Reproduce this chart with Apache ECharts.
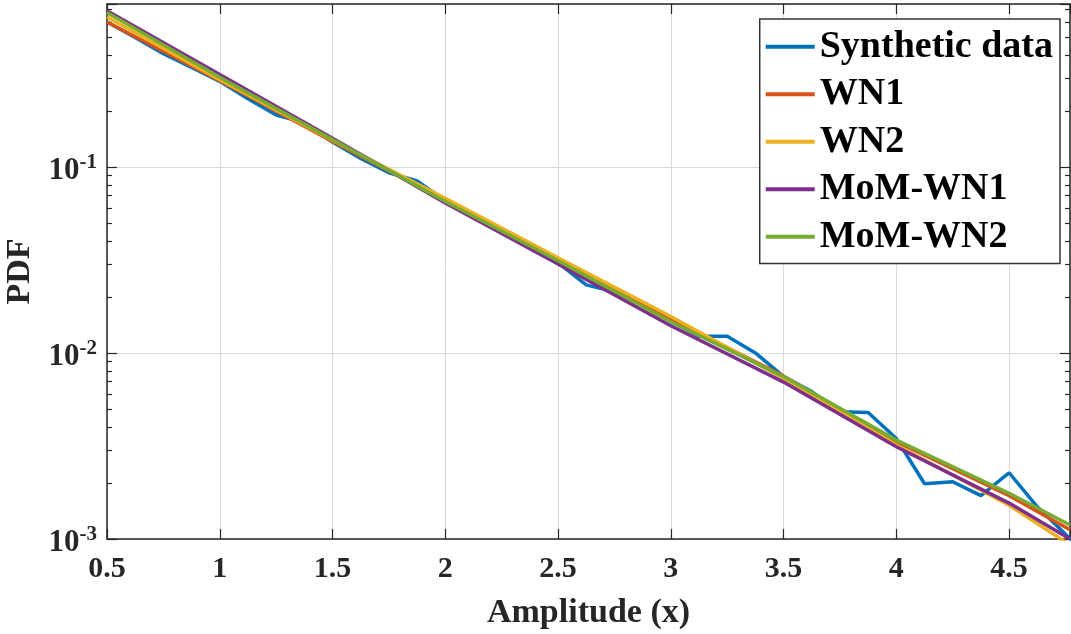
<!DOCTYPE html>
<html>
<head>
<meta charset="utf-8">
<script src="https://cdn.jsdelivr.net/npm/echarts@6/dist/echarts.min.js"></script>
<style>
html,body{margin:0;padding:0;background:#fff;}
#chart{width:1071px;height:634px;}
</style>
</head>
<body>
<div id="chart"></div>
<script>
// ---- data ----
const seriesNames = ['Synthetic data', 'WN1', 'WN2', 'MoM-WN1', 'MoM-WN2'];
const synX = [0.5,0.625,0.75,0.875,1,1.125,1.25,1.375,1.5,1.625,1.75,1.875,2,2.125,2.25,2.375,2.5,2.625,2.75,2.875,3,3.125,3.25,3.375,3.5,3.625,3.75,3.875,4,4.125,4.25,4.375,4.5,4.625,4.75,4.875];
const synY = [0.600,0.495,0.405,0.342,0.288,0.232,0.190,0.173,0.136,0.111,0.093,0.084,0.0655,0.054,0.0455,0.0375,0.0305,0.0232,0.0213,0.0180,0.0148,0.0123,0.0123,0.0100,0.00746,0.0062,0.00483,0.00478,0.00347,0.00198,0.00203,0.00171,0.00227,0.00149,0.00106,0.00074];
const fitX = [0.5,1,1.5,2,2.5,3,3.5,4,4.5,4.77];
const wn1 = [0.600,0.290,0.1368,0.066,0.032,0.0152,0.0075,0.00333,0.00171,0.00112];
const wn2 = [0.638,0.294,0.139,0.0678,0.0324,0.0157,0.0073,0.0032,0.00152,0.00093];
const momWn1 = [0.690,0.313,0.1426,0.064,0.0301,0.0140,0.00697,0.00313,0.00156,0.00100];
const momWn2 = [0.676,0.303,0.140,0.0651,0.0313,0.0147,0.00746,0.00340,0.00176,0.00119];
const xTickLabels = ['0.5','1','1.5','2','2.5','3','3.5','4','4.5'];
const yMinorTicks = [0.002,0.003,0.004,0.005,0.006,0.007,0.008,0.009,0.02,0.03,0.04,0.05,0.06,0.07,0.08,0.09,0.2,0.3,0.4,0.5,0.6,0.7];

// ---- styles ----
const colors = ['#0072BD','#D95319','#EDB120','#7E2F8E','#77AC30'];
const FONT = 'Liberation Serif, Times New Roman, serif';
const AX = '#262626';
const GRID = '#d9d9d9';
const X_MIN = 0.5, X_MAX = 4.77, Y_MIN = 0.001, Y_MAX = 0.75;

function zip(xs, ys){ return xs.map((x,i)=>[x, ys[i]]); }

const chart = echarts.init(document.getElementById('chart'), null, {renderer:'canvas'});

const baseX = {type:'value', min:X_MIN, max:X_MAX, interval:0.5};
const baseY = {type:'log', logBase:10, min:Y_MIN, max:Y_MAX};

const option = {
  animation:false,
  backgroundColor:'#fff',
  color: colors,
  grid:{left:107, right:1, top:4, bottom:95, containLabel:false, outerBoundsMode:'none'},
  legend:{
    orient:'vertical', right:11, top:19,
    backgroundColor:'#fff',
    borderColor:'#333', borderWidth:1.5,
    padding:[4,7,3,6],
    itemGap:0, itemWidth:49, itemHeight:4,
    icon:'rect',
    selectedMode:false,
    textStyle:{fontFamily:FONT, fontWeight:'bold', fontSize:38, color:'#000', lineHeight:47.5},
    data: seriesNames
  },
  xAxis:[
    Object.assign({}, baseX, {
      position:'bottom',
      name:'Amplitude (x)', nameLocation:'middle', nameGap:57,
      nameTextStyle:{fontFamily:FONT, fontWeight:'bold', fontSize:34, color:AX},
      axisLine:{show:true, onZero:false, lineStyle:{color:AX, width:1.5}},
      axisTick:{show:true, inside:true, length:10, lineStyle:{color:AX, width:1.2}},
      axisLabel:{margin:15, fontFamily:FONT, fontWeight:'bold', fontSize:30, color:AX,
        formatter:function(v){
          const k = Math.round((v - X_MIN)/0.5);
          if (Math.abs(v - (X_MIN + k*0.5)) > 1e-6) return '';
          return xTickLabels[k] || '';
        }},
      splitLine:{show:true, lineStyle:{color:GRID, width:1}}
    }),
    Object.assign({}, baseX, {
      position:'top',
      axisLine:{show:true, onZero:false, lineStyle:{color:AX, width:1.5}},
      axisTick:{show:true, inside:true, length:10, lineStyle:{color:AX, width:1.2}},
      axisLabel:{show:false},
      splitLine:{show:false}
    })
  ],
  yAxis:[
    Object.assign({}, baseY, {
      position:'left',
      name:'PDF', nameLocation:'middle', nameGap:60, nameRotate:90,
      nameTextStyle:{fontFamily:FONT, fontWeight:'bold', fontSize:34, color:AX},
      axisLine:{show:true, onZero:false, lineStyle:{color:AX, width:1.5}},
      axisTick:{show:true, inside:true, length:10, lineStyle:{color:AX, width:1.2}},
      axisLabel:{margin:10, padding:[8,0,0,0],
        formatter:function(v){
          const l = Math.log10(v);
          const e = Math.round(l);
          if (Math.abs(l - e) > 1e-6) return '';
          return '{b|10}{s|' + e + '}';
        },
        rich:{
          b:{fontFamily:FONT, fontWeight:'bold', fontSize:31, color:AX, lineHeight:38},
          s:{fontFamily:FONT, fontWeight:'bold', fontSize:21, color:AX, lineHeight:20, verticalAlign:'top'}
        }},
      splitLine:{show:true, lineStyle:{color:GRID, width:1}}
    }),
    Object.assign({}, baseY, {
      position:'right',
      axisLine:{show:true, onZero:false, lineStyle:{color:AX, width:1.5}},
      axisTick:{show:true, inside:true, length:10, lineStyle:{color:AX, width:1.2}},
      axisLabel:{show:false},
      splitLine:{show:false}
    }),
    Object.assign({}, baseY, {
      position:'left',
      axisLine:{show:false},
      axisTick:{show:true, inside:true, length:5, customValues:yMinorTicks, lineStyle:{color:AX, width:1.2}},
      axisLabel:{show:false},
      splitLine:{show:false}
    }),
    Object.assign({}, baseY, {
      position:'right',
      axisLine:{show:false},
      axisTick:{show:true, inside:true, length:5, customValues:yMinorTicks, lineStyle:{color:AX, width:1.2}},
      axisLabel:{show:false},
      splitLine:{show:false}
    })
  ],
  series:[
    {name:seriesNames[0], type:'line', data:zip(synX, synY)},
    {name:seriesNames[1], type:'line', data:zip(fitX, wn1)},
    {name:seriesNames[2], type:'line', data:zip(fitX, wn2)},
    {name:seriesNames[3], type:'line', data:zip(fitX, momWn1)},
    {name:seriesNames[4], type:'line', data:zip(fitX, momWn2)}
  ].map(s => Object.assign(s, {
    xAxisIndex:0, yAxisIndex:0, showSymbol:false, symbol:'none', clip:true,
    lineStyle:{width:3.5}, emphasis:{disabled:true}
  }))
};
chart.setOption(option);
</script>
</body>
</html>
